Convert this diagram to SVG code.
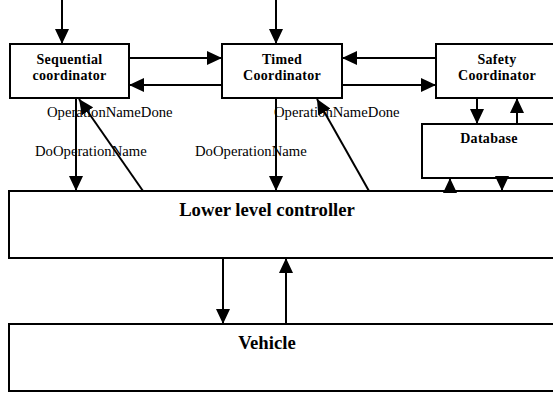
<svg xmlns="http://www.w3.org/2000/svg" width="553" height="393" viewBox="0 0 553 393">
  <style>
    .box { fill: #fff; stroke: #000; stroke-width: 2; }
    .title { font-family: 'Liberation Serif', Tinos, 'Times New Roman', 'DejaVu Serif', serif; font-weight: bold; font-size: 14px; text-anchor: middle; fill: #000; letter-spacing: 0.3px; }
    .big { font-family: 'Liberation Serif', Tinos, 'Times New Roman', 'DejaVu Serif', serif; font-weight: bold; font-size: 18.7px; text-anchor: middle; fill: #000; }
    .lbl { font-family: 'Liberation Serif', Tinos, 'Times New Roman', 'DejaVu Serif', serif; font-size: 14.7px; fill: #000; }
    .wire { stroke: #000; stroke-width: 2; fill: none; marker-end: url(#head); }
  </style>
  <defs>
    <marker id="head" viewBox="0 0 15 14" refX="15" refY="7" markerWidth="15" markerHeight="14" markerUnits="userSpaceOnUse" orient="auto">
      <path d="M0,0 L15,7 L0,14 Z" fill="#000"/>
    </marker>
  </defs>

  <g id="sequential">
    <rect class="box" x="10" y="44" width="119" height="54"/>
    <text class="title" x="69.5" y="64">Sequential</text>
    <text class="title" x="69.5" y="80">coordinator</text>
  </g>
  <g id="timed">
    <rect class="box" x="222" y="44" width="120" height="54"/>
    <text class="title" x="282" y="64">Timed</text>
    <text class="title" x="282" y="80">Coordinator</text>
  </g>
  <g id="safety">
    <rect class="box" x="436" y="44" width="122" height="54"/>
    <text class="title" x="497" y="64">Safety</text>
    <text class="title" x="497" y="80">Coordinator</text>
  </g>
  <g id="database">
    <rect class="box" x="422" y="124" width="134" height="54"/>
    <text class="title" x="489" y="143">Database</text>
  </g>
  <g id="lower">
    <rect class="box" x="9" y="191" width="550" height="67"/>
    <text class="big" x="267" y="216">Lower level controller</text>
  </g>
  <g id="vehicle">
    <rect class="box" x="9" y="324" width="550" height="67"/>
    <text class="big" x="267" y="349">Vehicle</text>
  </g>

  <g id="connectors">
    <line class="wire" x1="62" y1="0" x2="62" y2="44"/>
    <line class="wire" x1="276" y1="0" x2="276" y2="44"/>
    <line class="wire" x1="129" y1="58" x2="222" y2="58"/>
    <line class="wire" x1="222" y1="85" x2="129" y2="85"/>
    <line class="wire" x1="436" y1="58" x2="342" y2="58"/>
    <line class="wire" x1="342" y1="85" x2="436" y2="85"/>
    <line class="wire" x1="477" y1="98" x2="477" y2="124"/>
    <line class="wire" x1="517" y1="124" x2="517" y2="98"/>
    <line class="wire" x1="76" y1="98" x2="76" y2="191"/>
    <line class="wire" x1="143" y1="191" x2="79" y2="99"/>
    <line class="wire" x1="276" y1="98" x2="276" y2="191"/>
    <line class="wire" x1="369" y1="191" x2="317" y2="99"/>
    <line class="wire" x1="450" y1="193" x2="450" y2="178"/>
    <line class="wire" x1="502" y1="176" x2="502" y2="191"/>
    <line class="wire" x1="223" y1="258" x2="223" y2="324"/>
    <line class="wire" x1="286" y1="324" x2="286" y2="258"/>
    <text class="lbl" x="47" y="117">OperationNameDone</text>
    <text class="lbl" x="35" y="156">DoOperationName</text>
    <text class="lbl" x="274" y="117">OperationNameDone</text>
    <text class="lbl" x="195" y="156">DoOperationName</text>
  </g>
</svg>
